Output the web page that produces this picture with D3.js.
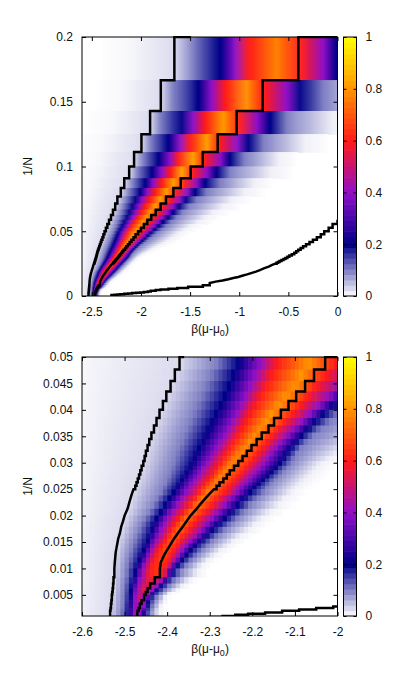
<!DOCTYPE html>
<html>
<head>
<meta charset="utf-8" />
<title>1/N map</title>
<script src="https://cdn.jsdelivr.net/npm/d3@7"></script>
<style>
  html, body { margin: 0; padding: 0; background: #fff; }
  text { font-family: "Liberation Sans", Arial, sans-serif; font-size: 12px; fill: #111; }
</style>
</head>
<body>
<div id="vis"></div>
<script>
// one entry per row of the map: system size N, the row runs from 1/N down to the next 1/N
var rowN = [5,6,7,8,9,10,11,12,13,14,15,16,17,18,19,20,21,22,23,24,25,26,27,28,29,30,31,32,33,34,35,36,37,38,39,40,
  42,44,47,50,53,56,60,64,68,72,77,83,90,100,120,140,160,180,200,250,300,400,500];

// beta(mu-mu0) where each row reaches a given value
var rise01 = [-2.15,-2.22,-2.31,-2.4,-2.46,-2.5,-2.53,-2.55,-2.57,-2.58,-2.59,-2.6,-2.6,-2.6,-2.6,
  -2.62,-2.62,-2.62,-2.62,-2.62,-2.62,-2.62,-2.62,-2.62,-2.62,-2.62,-2.62,-2.62,-2.62,-2.62,-2.62,-2.62,-2.62,-2.62,-2.62,-2.62,
  -2.62,-2.62,-2.62,-2.62,-2.62,-2.62,-2.62,-2.62,-2.62,-2.62,-2.62,-2.62,-2.62,-2.62,-2.62,-2.62,-2.62,-2.62,-2.62,-2.62,-2.62,-2.62,-2.62];
var leftLine = [-1.66,-1.798,-1.907,-1.995,-2.07,-2.12,-2.17,-2.205,-2.24,-2.262,-2.285,-2.305,-2.325,-2.342,-2.357,
  -2.371,-2.382,-2.392,-2.402,-2.41,-2.418,-2.425,-2.431,-2.437,-2.442,-2.446,-2.45,-2.453,-2.456,-2.46,-2.463,-2.466,-2.469,-2.472,-2.475,-2.479,
  -2.484,-2.488,-2.493,-2.5,-2.504,-2.508,-2.511,-2.515,-2.517,-2.519,-2.521,-2.522,-2.523,-2.524,-2.526,-2.527,-2.528,-2.529,-2.53,-2.531,-2.532,-2.533,-2.534];
var rise1 = [-1.47,-1.67,-1.8,-1.9,-1.975,-2.035,-2.085,-2.125,-2.155,-2.18,-2.2,-2.22,-2.24,-2.255,-2.27,
  -2.284,-2.298,-2.31,-2.32,-2.33,-2.338,-2.346,-2.353,-2.36,-2.366,-2.372,-2.377,-2.381,-2.385,-2.389,-2.393,-2.397,-2.401,-2.405,-2.41,-2.414,
  -2.423,-2.431,-2.441,-2.452,-2.46,-2.466,-2.472,-2.477,-2.481,-2.485,-2.488,-2.491,-2.494,-2.496,-2.498,-2.5,-2.501,-2.502,-2.503,-2.504,-2.505,-2.506,-2.507];
var rise2 = [-1.195,-1.416,-1.586,-1.721,-1.822,-1.89,-1.958,-2.01,-2.06,-2.09,-2.12,-2.145,-2.17,-2.19,-2.212,
  -2.233,-2.244,-2.255,-2.265,-2.275,-2.284,-2.293,-2.302,-2.31,-2.318,-2.325,-2.331,-2.337,-2.342,-2.348,-2.354,-2.36,-2.366,-2.372,-2.378,-2.385,
  -2.395,-2.404,-2.415,-2.425,-2.431,-2.436,-2.441,-2.446,-2.45,-2.455,-2.46,-2.465,-2.47,-2.476,-2.48,-2.483,-2.485,-2.486,-2.487,-2.488,-2.489,-2.49,-2.49];
var rise4 = [-1.04,-1.28,-1.467,-1.602,-1.704,-1.79,-1.874,-1.934,-1.99,-2.02,-2.05,-2.08,-2.11,-2.135,-2.16,
  -2.182,-2.194,-2.205,-2.216,-2.227,-2.237,-2.247,-2.257,-2.266,-2.275,-2.283,-2.291,-2.299,-2.307,-2.315,-2.322,-2.329,-2.336,-2.342,-2.348,-2.354,
  -2.366,-2.377,-2.39,-2.401,-2.409,-2.415,-2.421,-2.428,-2.433,-2.438,-2.443,-2.448,-2.454,-2.46,-2.465,-2.469,-2.472,-2.474,-2.475,-2.476,-2.477,-2.478,-2.478];
var rise6 = [-0.907,-1.145,-1.348,-1.5,-1.62,-1.7,-1.789,-1.857,-1.915,-1.96,-2.0,-2.035,-2.065,-2.095,-2.12,
  -2.143,-2.157,-2.17,-2.183,-2.194,-2.205,-2.216,-2.226,-2.236,-2.246,-2.254,-2.262,-2.27,-2.276,-2.283,-2.29,-2.297,-2.304,-2.311,-2.319,-2.327,
  -2.338,-2.348,-2.361,-2.374,-2.383,-2.391,-2.399,-2.407,-2.415,-2.421,-2.427,-2.432,-2.437,-2.44,null,null,null,null,null,null,null,null,null];
var peakAt = [-0.62,-0.924,-1.16,-1.33,-1.467,-1.585,-1.67,-1.738,-1.8,-1.85,-1.9,-1.94,-1.98,-2.01,-2.04,
  -2.068,-2.085,-2.1,-2.12,-2.137,-2.155,-2.168,-2.181,-2.194,-2.205,-2.217,-2.228,-2.239,-2.25,-2.258,-2.267,-2.275,-2.283,-2.29,-2.298,-2.305,
  -2.318,-2.33,-2.343,-2.355,-2.365,-2.374,-2.382,-2.39,-2.398,-2.404,-2.41,-2.416,-2.422,-2.428,-2.44,-2.449,-2.455,-2.46,-2.464,-2.468,-2.471,-2.473,-2.475];
var peakVal = [0.77,0.79,0.81,0.82,0.82,0.82,0.82,0.82,0.82,0.82,0.81,0.81,0.81,0.8,0.8,
  0.8,0.8,0.8,0.8,0.8,0.8,0.8,0.79,0.79,0.79,0.79,0.79,0.78,0.78,0.78,0.77,0.77,0.77,0.76,0.76,0.76,
  0.76,0.75,0.74,0.74,0.73,0.72,0.71,0.7,0.69,0.68,0.67,0.66,0.65,0.64,0.59,0.57,0.54,0.52,0.5,0.47,0.45,0.43,0.42];
var fall6 = [-0.365,-0.738,-0.992,-1.195,-1.348,-1.467,-1.551,-1.64,-1.71,-1.775,-1.825,-1.87,-1.91,-1.945,-1.978,
  -2.005,-2.028,-2.05,-2.07,-2.087,-2.104,-2.122,-2.139,-2.153,-2.166,-2.178,-2.187,-2.196,-2.205,-2.214,-2.223,-2.232,-2.241,-2.249,-2.257,-2.264,
  -2.28,-2.293,-2.31,-2.327,-2.339,-2.349,-2.36,-2.369,-2.376,-2.383,-2.39,-2.396,-2.401,-2.408,null,null,null,null,null,null,null,null,null];
var fall4 = [-0.144,-0.517,-0.822,-1.026,-1.195,-1.33,-1.433,-1.534,-1.61,-1.675,-1.73,-1.78,-1.825,-1.865,-1.9,
  -1.94,-1.968,-1.995,-2.02,-2.043,-2.064,-2.084,-2.102,-2.118,-2.132,-2.145,-2.156,-2.165,-2.174,-2.183,-2.192,-2.201,-2.21,-2.218,-2.228,-2.237,
  -2.252,-2.265,-2.281,-2.295,-2.308,-2.32,-2.332,-2.345,-2.356,-2.364,-2.372,-2.38,-2.39,-2.4,-2.41,-2.423,-2.433,-2.441,-2.448,-2.452,-2.455,-2.458,-2.46];
var fall2 = [-0.01,-0.381,-0.687,-0.907,-1.094,-1.23,-1.348,-1.45,-1.541,-1.61,-1.67,-1.725,-1.775,-1.82,-1.86,
  -1.9,-1.93,-1.96,-1.985,-2.01,-2.033,-2.052,-2.07,-2.085,-2.098,-2.11,-2.119,-2.127,-2.135,-2.146,-2.156,-2.166,-2.176,-2.186,-2.196,-2.205,
  -2.22,-2.234,-2.25,-2.264,-2.279,-2.293,-2.308,-2.32,-2.333,-2.344,-2.354,-2.364,-2.377,-2.389,-2.402,-2.413,-2.423,-2.432,-2.44,-2.444,-2.447,-2.45,-2.453];
var fall1 = [0.3,-0.144,-0.517,-0.754,-0.941,-1.094,-1.195,-1.331,-1.433,-1.51,-1.58,-1.64,-1.695,-1.745,-1.79,
  -1.84,-1.875,-1.91,-1.94,-1.97,-2.0,-2.02,-2.04,-2.058,-2.072,-2.085,-2.095,-2.103,-2.11,-2.12,-2.13,-2.14,-2.15,-2.158,-2.166,-2.174,
  -2.19,-2.205,-2.222,-2.237,-2.252,-2.267,-2.282,-2.296,-2.308,-2.32,-2.332,-2.344,-2.356,-2.37,-2.384,-2.396,-2.406,-2.416,-2.425,-2.43,-2.434,-2.437,-2.44];
var fall01 = [1.0,0.3,-0.05,-0.33,-0.6,-0.68,-0.85,-0.95,-1.08,-1.17,-1.27,-1.35,-1.42,-1.5,-1.56,
  -1.62,-1.66,-1.7,-1.74,-1.78,-1.82,-1.86,-1.89,-1.92,-1.95,-1.98,-2.0,-2.02,-2.04,-2.05,-2.06,-2.07,-2.08,-2.09,-2.1,-2.11,
  -2.125,-2.14,-2.16,-2.18,-2.195,-2.21,-2.23,-2.245,-2.26,-2.275,-2.29,-2.305,-2.32,-2.33,-2.35,-2.365,-2.38,-2.395,-2.405,-2.41,-2.415,-2.42,-2.42];

// the black staircase through the map
var midLine = [-0.398,-0.761,-1.026,-1.219,-1.371,-1.494,-1.595,-1.67,-1.745,-1.8,-1.85,-1.895,-1.935,-1.97,-2.0,
  -2.029,-2.055,-2.076,-2.097,-2.115,-2.133,-2.149,-2.162,-2.178,-2.19,-2.202,-2.213,-2.223,-2.233,-2.243,-2.253,-2.26,-2.268,-2.277,-2.284,-2.29,
  -2.304,-2.316,-2.331,-2.345,-2.355,-2.364,-2.375,-2.384,-2.391,-2.397,-2.404,-2.41,-2.415,-2.417,-2.429,-2.44,-2.446,-2.45,-2.454,-2.46,-2.464,-2.467,-2.47];
// third staircase, lower right, has its own sizes
var lowN = [17,18,19,20,21,22,23,24,25,26,27,28,29,30,31,32,33,34,35,36,37,38,39,40,
  42,44,47,50,53,56,60,64,68,72,77,83,90,100,120,140,160,180,200,220,250,280,320,360,400,450,500,600,700,800,1000,1250];
var lowLine = [0,-0.05,-0.09,-0.135,-0.17,-0.21,-0.25,-0.285,-0.32,-0.35,-0.375,-0.4,-0.42,-0.44,-0.465,-0.49,-0.51,-0.53,-0.55,-0.57,-0.59,-0.605,-0.62,-0.635,
  -0.67,-0.7,-0.75,-0.79,-0.83,-0.87,-0.92,-0.97,-1.01,-1.06,-1.11,-1.17,-1.24,-1.3,-1.37,-1.52,-1.63,-1.72,-1.8,-1.85,-1.9,-1.93,-1.97,-2.01,-2.05,-2.09,-2.13,-2.17,-2.21,-2.24,-2.27,-2.3];

var paletteStops = [0, 0.2, 0.4, 0.6, 0.8, 1];
var paletteColors = ["#ffffff", "#000088", "#9010c8", "#ff1a1a", "#ff9400", "#ffff00"];
var barTicks = [0, 0.2, 0.4, 0.6, 0.8, 1];

var topXTicks = [-2.5, -2, -1.5, -1, -0.5, 0];
var topYTicks = [0, 0.05, 0.1, 0.15, 0.2];
var botXTicks = [-2.6, -2.5, -2.4, -2.3, -2.2, -2.1, -2];
var botYTicks = [0.005, 0.01, 0.015, 0.02, 0.025, 0.03, 0.035, 0.04, 0.045, 0.05];

var color = d3.scaleLinear().domain(paletteStops).range(paletteColors);

var svg = d3.select("#vis").append("svg").attr("width", 399).attr("height", 693);

function rowProfile(i) {
  var p = peakVal[i];
  var stops = [
    [rise01[i] - 0.3, 0], [rise01[i], 0.005], [leftLine[i], 0.028], [rise1[i], 0.1], [rise2[i], 0.2], [rise4[i], 0.4], [rise6[i], 0.6],
    [peakAt[i], p],
    [fall6[i], 0.6], [fall4[i], 0.4], [fall2[i], 0.2], [fall1[i], 0.1], [fall01[i], 0.012], [fall01[i] + (fall01[i] - fall1[i]) * 0.6, 0]
  ].filter(function(s) { return s[0] !== null; });
  return d3.scaleLinear().domain(stops.map(function(s) { return s[0]; })).range(stops.map(function(s) { return s[1]; })).clamp(true);
}

// steps while the rows are tall or the sizes far apart, plain segments for 40 < N < 100
function stair(x, y, betas, sizes, tail, minN) {
  var pts = [[x(tail), y(1 / minN)]];
  sizes.forEach(function(n, i) {
    if (n < minN) return;
    var prev = pts[pts.length - 1];
    if (n <= 40 || n > 100) pts.push([prev[0], y(1 / n)]);
    pts.push([x(betas[i]), y(1 / n)]);
  });
  var last = pts[pts.length - 1];
  pts.push([last[0], y(0)]);
  return d3.line()(pts);
}

function panel(id, top, xDomain, yDomain, xTicks, yTicks, minN, tails, leftOfY) {
  var L = 82, R = 337.5, H = 259;
  var x = d3.scaleLinear().domain(xDomain).range([L, R]);
  var y = d3.scaleLinear().domain(yDomain).range([top + H, top]);

  svg.append("clipPath").attr("id", id).append("rect")
    .attr("x", L).attr("y", top - 1).attr("width", R - L).attr("height", H + 1);
  var g = svg.append("g").attr("clip-path", "url(#" + id + ")");

  // cells 0.01 wide in beta
  var columns = d3.range(Math.round(xDomain[0] * 100), Math.round(xDomain[1] * 100));
  rowN.forEach(function(n, i) {
    if (n < minN) return;
    var f = rowProfile(i);
    var y0 = y(1 / n);
    var y1 = i + 1 < rowN.length ? y(1 / rowN[i + 1]) : top + H;
    var cells = columns.map(function(c) { return { b: c / 100, v: f((c + 0.5) / 100) }; })
      .filter(function(d) { return d.v > 0.001; });
    g.append("g").selectAll("rect").data(cells).enter().append("rect")
      .attr("x", function(d) { return x(d.b); })
      .attr("y", y0)
      .attr("width", x(xDomain[0] + 0.01) - L + 0.6)
      .attr("height", y1 - y0 + 0.6)
      .attr("fill", function(d) { return color(d.v); });
  });

  // staircases
  var lines = [[leftLine, rowN, tails[0], minN], [midLine, rowN, tails[1], minN], [lowLine, lowN, lowLine[0], 17]];
  lines.forEach(function(l) {
    g.append("path")
      .attr("d", stair(x, y, l[0], l[1], l[2], l[3]))
      .attr("fill", "none").attr("stroke", "#000").attr("stroke-width", 2.5);
  });

  // axes with mirrored inward ticks
  var fmt = function(d) { return String(d); };
  var bottom = svg.append("g").attr("transform", "translate(0," + (top + H) + ")")
    .call(d3.axisBottom(x).tickValues(xTicks).tickSize(-4).tickPadding(11).tickFormat(fmt));
  var above = svg.append("g").attr("transform", "translate(0," + top + ")")
    .call(d3.axisTop(x).tickValues(xTicks).tickSize(-4).tickFormat(""));
  var left = svg.append("g").attr("transform", "translate(" + L + ",0)")
    .call(d3.axisLeft(y).tickValues(yTicks).tickSize(-4).tickPadding(9).tickFormat(fmt));
  var right = svg.append("g").attr("transform", "translate(" + R + ",0)")
    .call(d3.axisRight(y).tickValues(yTicks).tickSize(-4).tickFormat(""));
  [bottom, above, left, right].forEach(function(a) {
    a.select(".domain").remove();
    a.attr("font-family", null).attr("font-size", null);
  });

  svg.append("rect").attr("x", L).attr("y", top).attr("width", R - L).attr("height", H)
    .attr("fill", "none").attr("stroke", "#000").attr("stroke-width", 1);

  // labels
  var xl = svg.append("text").attr("x", 210).attr("y", top + H + 37).attr("text-anchor", "middle");
  xl.append("tspan").text("β(μ-μ");
  xl.append("tspan").attr("dy", 3).style("font-size", "9px").text("0");
  xl.append("tspan").attr("dy", -3).text(")");
  svg.append("text").attr("transform", "translate(" + leftOfY + "," + (top + H / 2) + ") rotate(-90)")
    .attr("text-anchor", "middle").text("1/N");

  // colour bar
  var bx = 343.5, bw = 13;
  var c = d3.scaleLinear().domain([0, 1]).range([top + H, top]);
  var bands = d3.range(0, 48);
  svg.append("g").selectAll("rect").data(bands).enter().append("rect")
    .attr("x", bx).attr("width", bw)
    .attr("y", function(d) { return c((d + 1) / 48); })
    .attr("height", H / 48 + 0.6)
    .attr("fill", function(d) { return color((d + 0.5) / 48); });
  svg.append("rect").attr("x", bx).attr("y", top).attr("width", bw).attr("height", H)
    .attr("fill", "none").attr("stroke", "#000");
  var ba = svg.append("g").attr("transform", "translate(" + (bx + bw) + ",0)")
    .call(d3.axisRight(c).tickValues(barTicks).tickSize(-3).tickPadding(9).tickFormat(fmt));
  var bb = svg.append("g").attr("transform", "translate(" + bx + ",0)")
    .call(d3.axisLeft(c).tickValues(barTicks).tickSize(-3).tickFormat(""));
  [ba, bb].forEach(function(a) {
    a.select(".domain").remove();
    a.attr("font-family", null).attr("font-size", null);
  });
}

panel("clipTop", 37, [-2.6, 0], [0, 0.2], topXTicks, topYTicks, 5, [-1.49, 0], 32);
panel("clipBot", 357, [-2.6, -2], [0.001, 0.05], botXTicks, botYTicks, 20, [-2.36, -2], 32);
</script>
</body>
</html>
